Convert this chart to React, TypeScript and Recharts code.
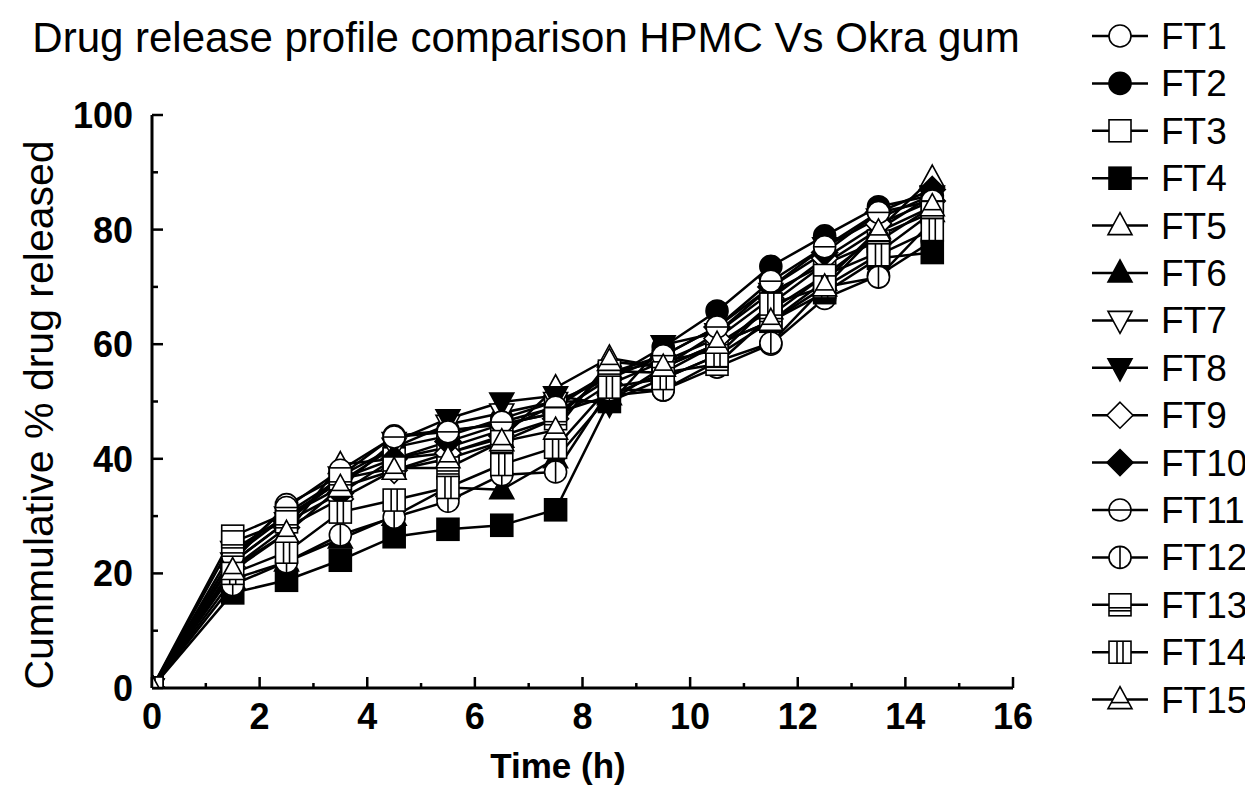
import React from 'react';
import { LineChart, Line, XAxis, YAxis } from 'recharts';

const times = [0, 1.5, 2.5, 3.5, 4.5, 5.5, 6.5, 7.5, 8.5, 9.5, 10.5, 11.5, 12.5, 13.5, 14.5];

const FT1 = [0, 22, 32, 37, 44, 45, 46, 48, 51, 52, 56, 60, 68, 72, 78];
const FT2 = [0, 23, 30, 36, 42, 44, 47, 50, 54, 59.5, 65.8, 73.6, 78.9, 84, 86];
const FT3 = [0, 26.5, 30.5, 36.5, 40, 42, 45, 49.4, 55, 57, 59, 67, 74, 78, 84];
const FT4 = [0, 16.6, 18.8, 22.3, 26.4, 27.7, 28.4, 31.1, 50, 54, 58, 64, 69, 75, 76];
const FT5 = [0, 21, 27, 39, 40, 41, 43.6, 52.4, 57.6, 56, 60, 64, 71, 80, 89];
const FT6 = [0, 19, 22, 26, 30, 35, 34.6, 40, 51, 55, 60, 66, 72, 79, 83];
const FT7 = [0, 22, 29, 37, 42, 46, 48, 50, 50, 56, 62, 69, 74, 80, 86];
const FT8 = [0, 24, 30, 35, 43, 47, 49.9, 51, 49.5, 59.9, 62, 70, 77, 82, 86];
const FT9 = [0, 21, 28, 33, 38, 41, 44, 47, 53, 57, 61, 68, 75, 81, 85];
const FT10 = [0, 22, 29, 34, 40, 43, 46, 48, 54, 58, 63, 70, 76, 83, 87];
const FT11 = [0, 23, 31.5, 38, 43.8, 44.7, 46.4, 49, 55, 58, 63, 71, 77, 83, 85];
const FT12 = [0, 18, 22, 26.7, 29.8, 32.6, 37.2, 37.7, 52, 52, 57, 60.2, 70, 71.7, 81.5];
const FT13 = [0, 25.5, 29, 36.5, 38.4, 38.4, 43, 47, 55.3, 55, 56.5, 65, 72, 76, 83];
const FT14 = [0, 20, 23.7, 30.7, 32.8, 35, 39, 42, 52.5, 54, 58, 67, 70, 75.6, 80];
const FT15 = [0, 20.5, 27, 35, 38, 40, 43, 45, 57, 56, 60, 64, 70, 79.6, 84];

const seriesNames = ['FT1','FT2','FT3','FT4','FT5','FT6','FT7','FT8','FT9','FT10','FT11','FT12','FT13','FT14','FT15'];
const seriesValues = [FT1, FT2, FT3, FT4, FT5, FT6, FT7, FT8, FT9, FT10, FT11, FT12, FT13, FT14, FT15];
const seriesShapes = ['circle','circle','square','square','triUp','triUp','triDown','triDown','diamond','diamond','circleH','circleV','squareH','squareV','triH'];
const seriesFilled = [false,true,false,true,false,true,false,true,false,true,false,false,false,false,false];

const xTicks = [0,1,2,3,4,5,6,7,8,9,10,11,12,13,14,15,16];
const yTicks = [0,10,20,30,40,50,60,70,80,90,100];

const data = times.map((t, i) => {
  const row: any = { t };
  seriesNames.forEach((n, k) => { row[n] = seriesValues[k][i]; });
  return row;
});

const FONT = '"Liberation Sans", Arial, sans-serif';

function Marker({ shape, filled, cx, cy }: { shape: string; filled: boolean; cx: number; cy: number }) {
  const fill = filled ? '#000' : '#fff';
  const sw = 1.6;
  const r = 11;
  const s = { fill, stroke: '#000', strokeWidth: sw };
  const ls = { stroke: '#000', strokeWidth: sw };
  switch (shape) {
    case 'circle':
      return <circle cx={cx} cy={cy} r={r} {...s} />;
    case 'square':
      return <rect x={cx - r} y={cy - r} width={2 * r} height={2 * r} {...s} />;
    case 'triUp':
      return <polygon points={`${cx},${cy - 13} ${cx + 12},${cy + 9} ${cx - 12},${cy + 9}`} {...s} />;
    case 'triDown':
      return <polygon points={`${cx},${cy + 13} ${cx + 12},${cy - 9} ${cx - 12},${cy - 9}`} {...s} />;
    case 'diamond':
      return <polygon points={`${cx},${cy - 13} ${cx + 13},${cy} ${cx},${cy + 13} ${cx - 13},${cy}`} {...s} />;
    case 'circleH':
      return (
        <g>
          <circle cx={cx} cy={cy} r={r} {...s} />
          <line x1={cx - r} y1={cy} x2={cx + r} y2={cy} {...ls} />
        </g>
      );
    case 'circleV':
      return (
        <g>
          <circle cx={cx} cy={cy} r={r} {...s} />
          <line x1={cx} y1={cy - r} x2={cx} y2={cy + r} {...ls} />
        </g>
      );
    case 'squareH':
      return (
        <g>
          <rect x={cx - r} y={cy - r} width={2 * r} height={2 * r} {...s} />
          <line x1={cx - r} y1={cy + 3} x2={cx + r} y2={cy + 3} {...ls} />
          <line x1={cx - r} y1={cy + 6} x2={cx + r} y2={cy + 6} {...ls} />
        </g>
      );
    case 'squareV':
      return (
        <g>
          <rect x={cx - r} y={cy - r} width={2 * r} height={2 * r} {...s} />
          <line x1={cx - 3} y1={cy - r} x2={cx - 3} y2={cy + r} {...ls} />
          <line x1={cx + 3} y1={cy - r} x2={cx + 3} y2={cy + r} {...ls} />
        </g>
      );
    case 'triH':
    default:
      return (
        <g>
          <polygon points={`${cx},${cy - 13} ${cx + 12},${cy + 9} ${cx - 12},${cy + 9}`} {...s} />
          <line x1={cx - 9} y1={cy + 3} x2={cx + 9} y2={cy + 3} {...ls} />
        </g>
      );
  }
}

const XTick = (props: any) => {
  const { x, y, payload } = props;
  const v = payload.value;
  const major = v % 2 === 0;
  return (
    <g>
      <line x1={x} y1={y} x2={x} y2={y - (major ? 11 : 5)} stroke="#000" strokeWidth={2.5} />
      {major && (
        <text x={x} y={y + 41} textAnchor="middle" fontFamily={FONT} fontWeight="bold" fontSize={36} fill="#000">
          {v}
        </text>
      )}
    </g>
  );
};

const YTick = (props: any) => {
  const { x, y, payload } = props;
  const v = payload.value;
  const major = v % 20 === 0;
  return (
    <g>
      <line x1={x} y1={y} x2={x + (major ? 11 : 6)} y2={y} stroke="#000" strokeWidth={2.5} />
      {major && (
        <text x={x - 19} y={y + 13} textAnchor="end" fontFamily={FONT} fontWeight="bold" fontSize={36} fill="#000">
          {v}
        </text>
      )}
    </g>
  );
};

const W = 1245;
const H = 795;

export default function App() {
  return (
    <div style={{ position: 'relative', width: W, height: H, background: '#fff' }}>
      <LineChart width={W} height={H} data={data} margin={{ top: 107, right: 240, bottom: 55, left: 64 }}>
        <XAxis
          dataKey="t"
          type="number"
          domain={[0, 16]}
          ticks={xTicks}
          interval={0}
          height={60}
          tickSize={0}
          tickMargin={0}
          tickLine={false}
          tick={<XTick />}
          axisLine={{ stroke: '#000', strokeWidth: 3 }}
          allowDataOverflow
        />
        <YAxis
          type="number"
          domain={[0, 100]}
          ticks={yTicks}
          interval={0}
          width={80}
          tickSize={0}
          tickMargin={0}
          tickLine={false}
          tick={<YTick />}
          axisLine={{ stroke: '#000', strokeWidth: 3 }}
          allowDataOverflow
        />
        {seriesNames.map((n, k) => (
          <Line
            key={n}
            dataKey={n}
            type="linear"
            stroke="#000"
            strokeWidth={2.5}
            isAnimationActive={false}
            dot={(p: any) => (
              <Marker key={`${n}-${p.index}`} shape={seriesShapes[k]} filled={seriesFilled[k]} cx={p.cx} cy={p.cy} />
            )}
            activeDot={false}
          />
        ))}
      </LineChart>
      <svg width={W} height={H} style={{ position: 'absolute', left: 0, top: 0, pointerEvents: 'none' }}>
        <text x={518} y={44} textAnchor="middle" fontFamily={FONT} fontSize={42} fill="#000">
          Drug release profile comparison HPMC Vs Okra gum
        </text>
        <text
          transform="translate(45,407) rotate(-90)"
          textAnchor="middle"
          fontFamily={FONT}
          fontSize={41}
          fill="#000"
        >
          Cummulative % drug released
        </text>
        <text x={550} y={770} textAnchor="middle" fontFamily={FONT} fontWeight="bold" fontSize={35} fill="#000">
          Time (h)
        </text>
        {seriesNames.map((n, k) => {
          const cy = 28 + k * 47.4;
          return (
            <g key={n}>
              <line x1={1084} y1={cy} x2={1140} y2={cy} stroke="#000" strokeWidth={2.5} />
              <Marker shape={seriesShapes[k]} filled={seriesFilled[k]} cx={1112} cy={cy} />
              <text x={1153} y={cy + 13} fontFamily={FONT} fontSize={37} fill="#000">
                {n}
              </text>
            </g>
          );
        })}
      </svg>
    </div>
  );
}
